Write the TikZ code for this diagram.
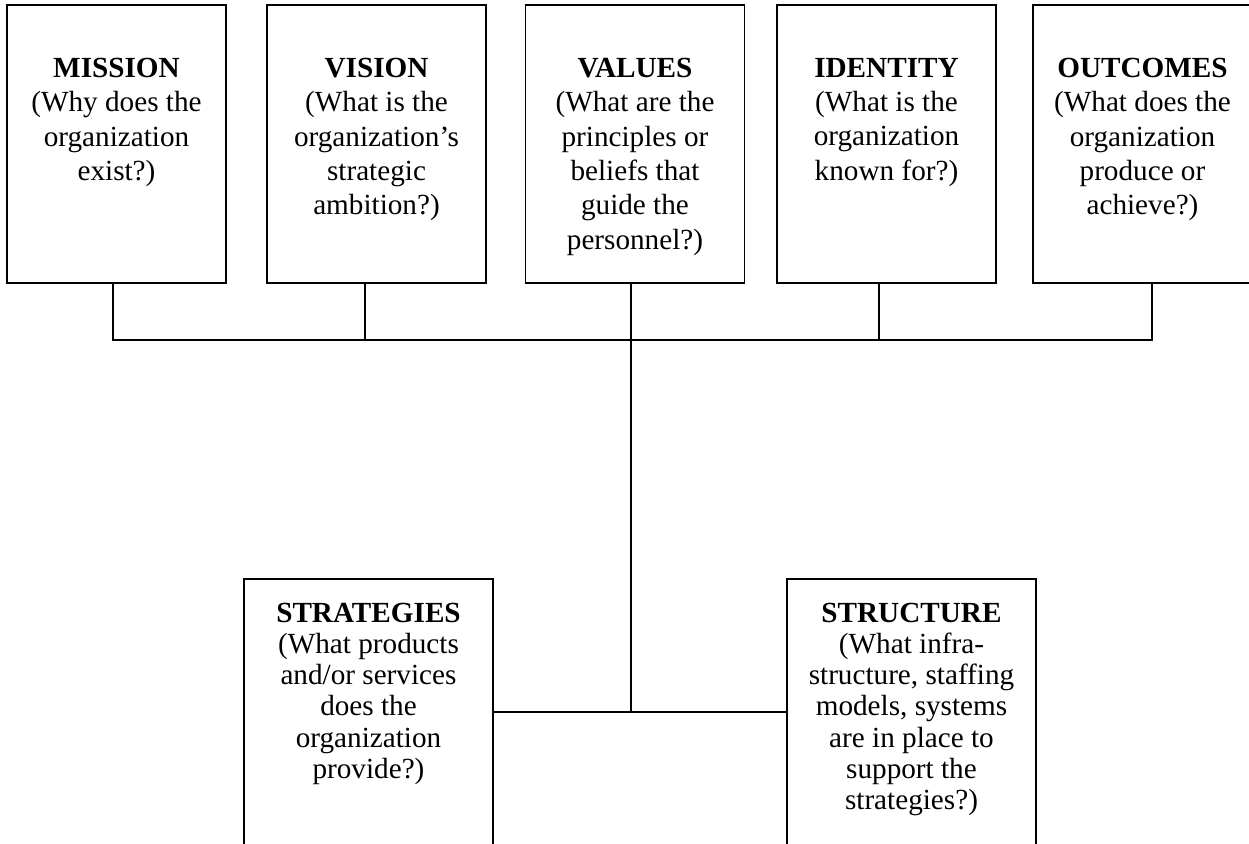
\documentclass[tikz,border=0pt]{standalone}
\usepackage{fontspec}
\setmainfont{Liberation Serif}
\usetikzlibrary{positioning}

\begin{document}
\begin{tikzpicture}
  [x=0.5pt,y=-0.5pt,line width=0.9pt,
   topbox/.style={draw,rectangle,minimum width=109.5pt,minimum height=139pt,inner sep=0pt},
   lowbox/.style={draw,rectangle,minimum width=124.5pt,minimum height=160pt,inner sep=0pt},
   toptext/.style={align=center,inner sep=0pt,font=\fontsize{14.6}{17.2}\selectfont},
   lowtext/.style={align=center,inner sep=0pt,font=\fontsize{14.6}{15.6}\selectfont}]
  \useasboundingbox (0,0) rectangle (1249,844);
  \clip (0,0) rectangle (1249,844);

  \node[topbox] (mission)  at (116.5,144) {};
  \node[topbox] (vision)   at (376.5,144) {};
  \node[topbox] (values)   at (635,144)   {};
  \node[topbox] (identity) at (886.5,144) {};
  \node[topbox] (outcomes) at (1142.5,144) {};
  \node[lowbox] (strategies) at (368.5,739) {};
  \node[lowbox] (structure)  at (911.5,739) {};

  \node[toptext,below=26.5pt of mission.north]
    {\textbf{MISSION}\\(Why does the\\organization\\exist?)};
  \node[toptext,below=26.5pt of vision.north]
    {\textbf{VISION}\\(What is the\\organization’s\\strategic\\ambition?)};
  \node[toptext,below=26.5pt of values.north]
    {\textbf{VALUES}\\(What are the\\principles or\\beliefs that\\guide the\\personnel?)};
  \node[toptext,below=26.5pt of identity.north]
    {\textbf{IDENTITY}\\(What is the\\organization\\known for?)};
  \node[toptext,below=26.5pt of outcomes.north]
    {\textbf{OUTCOMES}\\(What does the\\organization\\produce or\\achieve?)};
  \node[lowtext,below=12pt of strategies.north]
    {\textbf{STRATEGIES}\\(What products\\and/or services\\does the\\organization\\provide?)};
  \node[lowtext,below=12pt of structure.north]
    {\textbf{STRUCTURE}\\(What infra-\\structure, staffing\\models, systems\\are in place to\\support the\\strategies?)};

  \coordinate (bus-west) at (113,340);
  \coordinate (bus-east) at (1152,340);
  \coordinate (hub) at (631,340);
  \coordinate (junction) at (631,712);

  \foreach \name/\dx in {mission/-3.5,vision/-11.5,values/-4,identity/-7.5,outcomes/9.5}
    \draw (\name.south) ++(\dx,0) -- ++(0,57);
  \draw (bus-west) -- (bus-east);
  \draw (hub) -- (junction);
  \draw (strategies.east |- junction) -- (structure.west |- junction);

\end{tikzpicture}
\end{document}
